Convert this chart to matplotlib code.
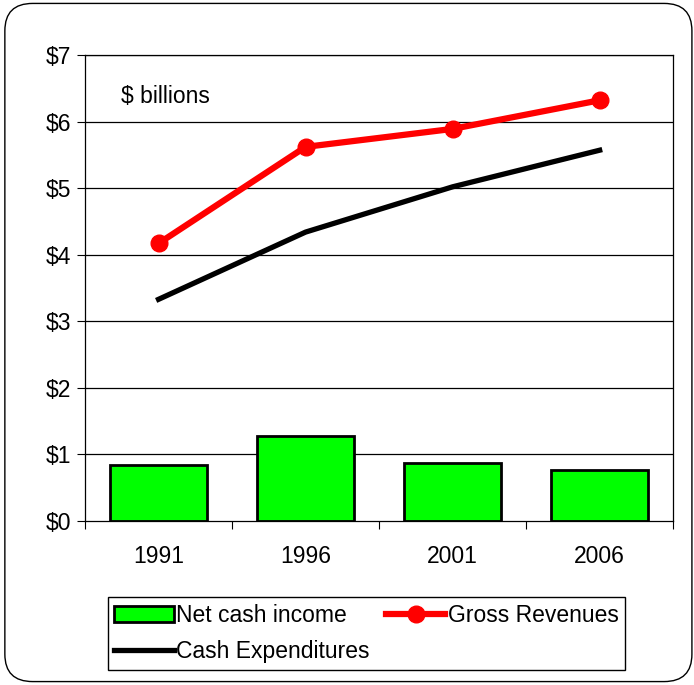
import matplotlib.pyplot as plt
from matplotlib.patches import FancyBboxPatch
import numpy as np

plt.rcParams['font.family'] = ['Liberation Sans', 'DejaVu Sans']

years = ['1991', '1996', '2001', '2006']
net_cash = [0.84, 1.28, 0.87, 0.76]
gross_rev = [4.17, 5.62, 5.89, 6.32]
cash_exp = [3.33, 4.34, 5.02, 5.57]
yticks = [0, 1, 2, 3, 4, 5, 6, 7]

fig = plt.figure(figsize=(6.94, 6.85), dpi=100)

# rounded frame around the whole chart
frame = FancyBboxPatch((0.007, 0.005), 0.99, 0.99, boxstyle='round,pad=0,rounding_size=0.04',
                       transform=fig.transFigure, fill=False, edgecolor='black', lw=1.0)
fig.patches.append(frame)

ax = fig.add_axes([0.1225, 0.2394, 0.8475, 0.6803])
x = np.arange(len(years))

for v in yticks[1:]:
    ax.axhline(v, color='black', lw=0.9, zorder=0)

bars = ax.bar(x, net_cash, width=0.66, color='#00ff00', edgecolor='black', lw=2, zorder=2,
              label='Net cash income')
l1, = ax.plot(x, gross_rev, color='#ff0000', lw=4.5, marker='o', markersize=12, zorder=3,
              label='Gross Revenues')
l2, = ax.plot(x, cash_exp, color='black', lw=3.8, zorder=3, label='Cash Expenditures')

ax.set_xlim(-0.5, len(years) - 0.5)
ax.set_ylim(0, 7)
ax.set_yticks(yticks)
ax.set_yticklabels(['$%d' % v for v in yticks], fontsize=16.5)
ax.set_xticks(np.arange(-0.5, len(years), 1.0))
ax.set_xticklabels([])
ax.set_xticks(x, minor=True)
ax.set_xticklabels(years, minor=True, fontsize=16.5)
ax.tick_params(axis='x', which='minor', length=0, pad=17)
ax.tick_params(axis='x', which='major', length=6, direction='out')
ax.tick_params(axis='y', length=6, direction='out', pad=4)
for s in ax.spines.values():
    s.set_linewidth(0.9)

ax.text(0.061, 0.91, '$ billions', transform=ax.transAxes, fontsize=16.5, va='center')

fig.legend([bars, l2, l1], ['Net cash income', 'Cash Expenditures', 'Gross Revenues'],
           ncol=2, loc='upper left', bbox_to_anchor=(0.155, 0.128), bbox_transform=fig.transFigure,
           fontsize=16.5, frameon=True, fancybox=False, edgecolor='black', framealpha=1,
           handlelength=2.6, handletextpad=0.1, columnspacing=0.7, borderpad=0.3,
           labelspacing=0.55, borderaxespad=0)

fig.savefig('out.png', dpi=100)
